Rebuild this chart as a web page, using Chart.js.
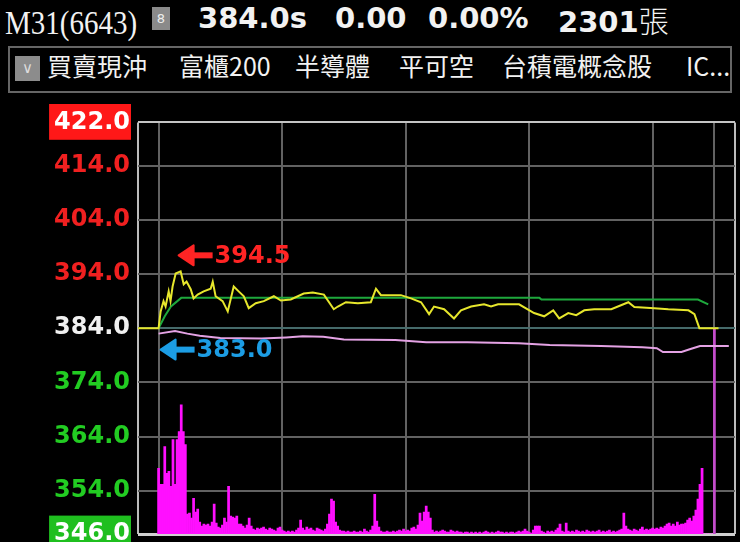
<!DOCTYPE html>
<html>
<head>
<meta charset="utf-8">
<script src="https://cdn.jsdelivr.net/npm/chart.js@4.4.1/dist/chart.umd.min.js"></script>
<style>
	html, body { margin: 0; padding: 0; background: #000; width: 740px; height: 542px; overflow: hidden; }
	.hd { position: absolute; color: #f2f2f2; white-space: nowrap; line-height: 1; }
	.num { font-family: "DejaVu Sans"; font-weight: bold; font-size: 29px; top: 4px; }
	.tag { font-family: "Noto Sans CJK TC"; font-size: 25px; top: 53px; }
	#tagbar { position: absolute; left: 8px; top: 46px; width: 720px; height: 43px; border: 2px solid #666; }
	#chk { position: absolute; left: 15px; top: 56px; width: 25px; height: 25px; background: #8c8c8c; color: #ddd; font: 15px "DejaVu Sans"; text-align: center; line-height: 25px; }
	#wrap { position: absolute; left: 0; top: 100px; width: 740px; height: 460px; }
</style>
</head>
<body>
<div class="hd" style="left:5px; top:4px; font: 29px 'Liberation Serif'; transform: scaleY(1.15); transform-origin: 0 0;">M31(6643)</div>
<div style="position:absolute; left:152px; top:7px; width:18px; height:23px; background:#8a8a8a; color:#eee; font:13px 'DejaVu Sans'; text-align:center; line-height:23px;">8</div>
<div class="hd num" style="left:198px;">384.0s</div>
<div class="hd num" style="left:335px;">0.00</div>
<div class="hd num" style="left:428px;">0.00%</div>
<div class="hd num" style="left:558px;">2301<span style="font-family:'Noto Sans CJK TC'; font-weight:300; font-size:30px;">張</span></div>

<div id="tagbar"></div>
<div id="chk">∨</div>
<div class="hd tag" style="left:47px;">買賣現沖</div>
<div class="hd tag" style="left:179px;">富櫃200</div>
<div class="hd tag" style="left:295px;">半導體</div>
<div class="hd tag" style="left:399px;">平可空</div>
<div class="hd tag" style="left:502px;">台積電概念股</div>
<div class="hd tag" style="left:686px;">IC...</div>

<div id="wrap"><canvas id="tickChart"></canvas></div>

<script>
// 分鐘 (0 = 9:00, 270 = 13:30)
const gridTimes = [-10, 0, 60, 120, 180, 240, 270, 280];
const priceTicks = [422, 414, 404, 394, 384, 374, 364, 354, 346];
const refPrice = 384;

// 成交價
const priceTimes = [-10, 0, 1.0, 2.4, 3.4, 4.9, 5.8, 6.8, 8.3, 10.7,
	12.2, 13.6, 15.6, 17.0, 19.0, 21.9, 25.3, 26.3, 27.7, 31.1,
	33.6, 36.5, 38.9, 41.4, 43.8, 47.2, 51.1, 56.0, 59.4, 64.2,
	70.5, 74.9, 80.3, 85.1, 87.1, 91.0, 96.8, 103.1, 105.6, 108.0,
	117.7, 122.6, 127.5, 131.4, 133.8, 138.7, 143.5, 146.9, 151.8, 158.1,
	161.5, 164.9, 175.1, 182.4, 187.3, 191.7, 194.6, 199.0, 202.9, 206.8,
	211.6, 219.9, 228.2, 231.1, 240.8, 247.6, 257.4, 260.3, 262.7, 272];
const priceValues = [384, 384, 387.1, 389.0, 388.0, 390.8, 389.0, 391.7, 394.1, 394.5,
	392.1, 392.6, 391.2, 389.5, 390.2, 390.8, 391.3, 392.6, 389.9, 389.0,
	387.1, 391.7, 390.8, 389.9, 387.7, 388.6, 389.0, 389.9, 389.1, 389.3,
	390.4, 390.6, 390.2, 387.5, 388.0, 388.8, 388.6, 388.8, 391.3, 390.1,
	390.1, 389.5, 388.8, 386.6, 388.0, 387.5, 385.8, 387.3, 388.0, 388.4,
	388.0, 388.4, 388.4, 386.8, 386.2, 387.3, 385.8, 386.8, 386.4, 387.3,
	387.5, 387.5, 388.8, 387.9, 387.7, 387.5, 387.3, 386.6, 384.0, 384.0];

// 均價
const avgTimes = [0, 3, 6, 11, 185, 186, 262, 267];
const avgValues = [384, 386.2, 388.0, 389.6, 389.6, 389.3, 389.3, 388.4];

// 粉紅線
const pinkTimes = [0, 8, 14, 20, 30, 50, 62, 70, 80, 90, 115, 130, 150, 175, 190, 215, 235, 242, 245, 254, 258, 263, 277];
const pinkValues = [383.0, 383.5, 383.0, 382.6, 382.2, 382.1, 382.3, 382.5, 382.4, 381.9, 381.8, 381.4, 381.4, 381.2, 380.9, 380.7, 380.5, 380.3, 379.6, 379.6, 380.1, 380.7, 380.7];

// 每分鐘成交量 (index = 分鐘, 最後一筆為 13:30 收盤)
const volumes = [
	66, 50, 50, 88, 61, 63, 48, 95, 50, 95,
	103, 130, 103, 90, 20, 21, 16, 36, 22, 25,
	12, 8, 10, 9, 10, 8, 12, 30, 11, 7,
	6, 9, 16, 12, 48, 18, 17, 16, 18, 10,
	10, 8, 6, 9, 16, 8, 5, 4, 6, 5,
	6, 7, 5, 4, 6, 5, 4, 3, 6, 7,
	4, 3, 2, 3, 2, 3, 2, 4, 6, 14,
	6, 4, 7, 5, 6, 4, 3, 6, 5, 4,
	3, 5, 10, 20, 35, 33, 12, 8, 4, 3,
	3, 2, 3, 2, 2, 3, 2, 2, 3, 2,
	5, 3, 2, 4, 8, 40, 13, 7, 3, 2,
	2, 3, 2, 2, 3, 2, 3, 4, 3, 5,
	3, 4, 3, 6, 7, 5, 9, 21, 13, 22,
	28, 22, 16, 4, 2, 3, 2, 3, 4, 3,
	2, 2, 4, 3, 2, 3, 2, 2, 1, 2,
	2, 1, 2, 1, 2, 1, 2, 1, 2, 3,
	2, 1, 2, 1, 2, 3, 2, 2, 1, 2,
	1, 2, 2, 1, 2, 3, 2, 3, 5, 3,
	2, 1, 4, 8, 8, 8, 3, 2, 1, 3,
	2, 3, 2, 4, 6, 10, 3, 2, 11, 3,
	2, 3, 2, 4, 3, 2, 3, 2, 4, 3,
	2, 3, 2, 3, 4, 2, 3, 2, 3, 4,
	2, 3, 2, 3, 4, 5, 21, 8, 5, 4,
	3, 5, 4, 3, 5, 7, 4, 5, 4, 5,
	6, 5, 6, 5, 7, 6, 8, 10, 11, 8,
	10, 8, 12, 9, 10, 10, 11, 14, 16, 13,
	18, 24, 35, 50, 66, 0, 0, 0, 0, 0,
	206
];

// 最高 / 最低標示
const highMark = { t: 10.7, v: 394.5 };
const lowMark = { t: 0, v: 383.0 };

function pairs(xs, ys) {
	return xs.map((t, i) => ({ x: t, y: ys[i] }));
}

function drawMark(ctx, tx, ty, text, color) {
	ctx.save();
	ctx.fillStyle = color;
	ctx.strokeStyle = color;
	ctx.lineJoin = 'round';
	ctx.lineWidth = 2;
	ctx.beginPath();
	ctx.moveTo(tx, ty);
	ctx.lineTo(tx + 15, ty - 10);
	ctx.lineTo(tx + 15, ty + 10);
	ctx.closePath();
	ctx.fill();
	ctx.stroke();
	ctx.lineWidth = 6;
	ctx.beginPath();
	ctx.moveTo(tx + 10, ty);
	ctx.lineTo(tx + 34, ty);
	ctx.stroke();
	ctx.font = 'bold 24px "DejaVu Sans"';
	ctx.textBaseline = 'middle';
	ctx.fillText(text, tx + 36, ty + 1);
	ctx.restore();
}

const markPlugin = {
	id: 'marks',
	afterDatasetsDraw(chart) {
		const { ctx, scales } = chart;
		const x = scales.x, y = scales.y;
		drawMark(ctx, x.getPixelForValue(highMark.t) - 2, y.getPixelForValue(highMark.v) - 16, highMark.v.toFixed(1), '#ff2424');
		drawMark(ctx, x.getPixelForValue(lowMark.t) + 2, y.getPixelForValue(lowMark.v) + 16, lowMark.v.toFixed(1), '#1c9de4');
	}
};

function tickColor(v) {
	if (v === 422 || v === 346) return '#ffffff';
	if (v > refPrice) return '#f02020';
	if (v < refPrice) return '#22cc22';
	return '#f0f0f0';
}

function yGridColor(v) {
	if (v === 422) return '#c4c4c4';
	if (v === 346) return '#d0d0d0';
	if (v === refPrice) return '#456a6a';
	return '#626262';
}

const ctx = document.getElementById('tickChart').getContext('2d');
new Chart(ctx, {
	type: 'line',
	data: {
		datasets: [{
			type: 'line',
			label: '成交價',
			data: pairs(priceTimes, priceValues),
			borderColor: '#e6e62c',
			borderWidth: 2,
			pointRadius: 0,
			order: 0
		}, {
			type: 'line',
			label: '均價',
			data: pairs(avgTimes, avgValues),
			borderColor: '#1ea83c',
			borderWidth: 2,
			pointRadius: 0,
			order: 1
		}, {
			type: 'line',
			label: '參考',
			data: pairs(pinkTimes, pinkValues),
			borderColor: '#e4a2e4',
			borderWidth: 2,
			pointRadius: 0,
			order: 2
		}, {
			type: 'bar',
			label: '成交量',
			data: volumes.map((v, i) => ({ x: i, y: v })),
			yAxisID: 'yv',
			backgroundColor: c => (c.dataIndex === 270 ? '#c44ccc' : '#ff10ff'),
			barPercentage: 1,
			categoryPercentage: 1,
			order: 3
		}]
	},
	options: {
		responsive: true,
		maintainAspectRatio: false,
		animation: false,
		devicePixelRatio: 1,
		layout: { padding: { left: 0, right: 5, top: 20, bottom: 26 } },
		plugins: {
			legend: { display: false },
			tooltip: { enabled: false }
		},
		scales: {
			x: {
				type: 'linear',
				min: -10,
				max: 280,
				offset: false,
				afterBuildTicks: axis => { axis.ticks = gridTimes.map(v => ({ value: v })); },
				afterFit: s => { s.height = 0; },
				ticks: { display: false },
				border: { display: false },
				grid: {
					offset: false,
					drawTicks: false,
					lineWidth: 2,
					color: c => (c.tick && (c.tick.value === -10 || c.tick.value === 280) ? '#bcbcbc' : '#626262')
				}
			},
			y: {
				position: 'left',
				min: 346,
				max: 422,
				afterBuildTicks: axis => { axis.ticks = priceTicks.map(v => ({ value: v })); },
				afterFit: s => { s.width = 138; },
				border: { display: false },
				grid: {
					drawTicks: false,
					lineWidth: c => (c.tick && c.tick.value === 346 ? 3 : 2),
					color: c => yGridColor(c.tick ? c.tick.value : 0)
				},
				ticks: {
					autoSkip: false,
					padding: 8,
					font: { family: 'DejaVu Sans', weight: 'bold', size: 24 },
					color: c => tickColor(c.tick.value),
					callback: v => Number(v).toFixed(1),
					showLabelBackdrop: c => c.tick.value === 422 || c.tick.value === 346,
					backdropColor: c => (c.tick.value === 422 ? '#ff1818' : '#1fbf1f'),
					backdropPadding: { top: 4, bottom: 3, left: 5, right: 1 }
				}
			},
			yv: {
				display: false,
				min: 0,
				max: 414
			}
		}
	},
	plugins: [markPlugin]
});
</script>
</body>
</html>
